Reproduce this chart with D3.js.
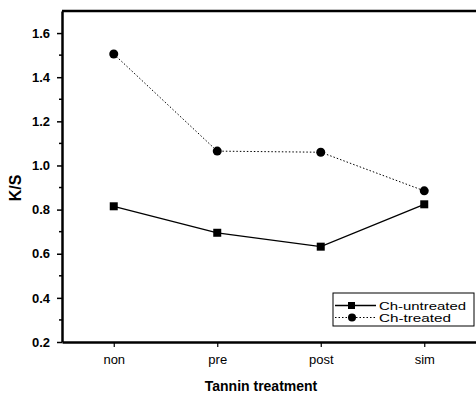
<!DOCTYPE html>
<html>
<head>
<meta charset="utf-8">
<script src="https://cdn.jsdelivr.net/npm/d3@7"></script>
<style>
  body { margin: 0; background: #fff; }
  svg { display: block; font-family: "Liberation Sans", Arial, sans-serif; }
</style>
</head>
<body>
<div id="chart"></div>
<script>
const categories = ['non', 'pre', 'post', 'sim'];
const untreated = [0.815, 0.695, 0.632, 0.824];
const treated = [1.505, 1.065, 1.060, 0.885];
const yTicks = [0.2, 0.4, 0.6, 0.8, 1.0, 1.2, 1.4, 1.6];
const seriesNames = ['Ch-untreated', 'Ch-treated'];

const width = 476, height = 396;
const margin = { top: 11, right: 0, bottom: 54, left: 62 };
const innerW = width - margin.left - margin.right;
const innerH = height - margin.top - margin.bottom;

const svg = d3.select('#chart').append('svg')
  .attr('width', width)
  .attr('height', height);

const g = svg.append('g')
  .attr('transform', `translate(${margin.left},${margin.top})`);

const x = d3.scaleLinear().domain([0.5, 4.5]).range([0, innerW]);
const y = d3.scaleLinear().domain([0.2, 1.7]).range([innerH, 0]);

// minor ticks on y
const minor = d3.range(0.3, 1.7, 0.2);
g.selectAll('.minor')
  .data(minor)
  .enter()
  .append('line')
  .attr('x1', -3).attr('x2', 0)
  .attr('y1', d => y(d)).attr('y2', d => y(d))
  .attr('stroke', '#000').attr('stroke-width', 1.5);

// y axis
const yAxis = g.append('g')
  .call(d3.axisLeft(y).tickValues(yTicks).tickFormat(d3.format('.1f')).tickSize(5).tickSizeOuter(0));
yAxis.select('.domain').attr('stroke-width', 2.5);
yAxis.selectAll('.tick line').attr('stroke-width', 1.5);
yAxis.selectAll('text')
  .attr('font-size', 13).attr('font-weight', 'bold')
  .attr('x', -12).attr('fill', '#000');

// x axis
const xAxis = g.append('g')
  .attr('transform', `translate(0,${innerH})`)
  .call(d3.axisBottom(x).tickValues([1, 2, 3, 4]).tickFormat((d, i) => categories[i]).tickSize(5).tickSizeOuter(0));
xAxis.select('.domain').attr('stroke-width', 2.5);
xAxis.selectAll('.tick line').attr('stroke-width', 1.2);
xAxis.selectAll('text')
  .attr('font-size', 13).attr('fill', '#000').attr('dy', '1.1em');

// top frame line
g.append('line')
  .attr('x1', 0).attr('x2', innerW)
  .attr('y1', 0).attr('y2', 0)
  .attr('stroke', '#000').attr('stroke-width', 2.5);

const line = d3.line()
  .x((d, i) => x(i + 1))
  .y(d => y(d));

// treated (dotted + circles)
g.append('path')
  .datum(treated)
  .attr('d', line)
  .attr('fill', 'none')
  .attr('stroke', '#000')
  .attr('stroke-width', 1)
  .attr('stroke-dasharray', '1.5,2');

g.selectAll('.circ')
  .data(treated)
  .enter()
  .append('circle')
  .attr('cx', (d, i) => x(i + 1))
  .attr('cy', d => y(d))
  .attr('r', 4.5)
  .attr('fill', '#000');

// untreated (solid + squares)
g.append('path')
  .datum(untreated)
  .attr('d', line)
  .attr('fill', 'none')
  .attr('stroke', '#000')
  .attr('stroke-width', 1.3);

g.selectAll('.sq')
  .data(untreated)
  .enter()
  .append('rect')
  .attr('x', (d, i) => x(i + 1) - 4)
  .attr('y', d => y(d) - 4)
  .attr('width', 8).attr('height', 8)
  .attr('fill', '#000');

// axis titles
svg.append('text')
  .attr('transform', 'translate(21,188) rotate(-90)')
  .attr('text-anchor', 'middle')
  .attr('font-size', 16).attr('font-weight', 'bold')
  .text('K/S');

svg.append('text')
  .attr('x', 261).attr('y', 391)
  .attr('text-anchor', 'middle')
  .attr('font-size', 14).attr('font-weight', 'bold')
  .text('Tannin treatment');

// legend
const leg = svg.append('g').attr('transform', 'translate(333,293)');
leg.append('rect')
  .attr('width', 141).attr('height', 33)
  .attr('fill', '#fff').attr('stroke', '#000').attr('stroke-width', 1);

const legWidths = [87, 72];
seriesNames.forEach((name, i) => {
  const ly = 12.5 + i * 12;
  leg.append('line')
    .attr('x1', 2).attr('x2', 43)
    .attr('y1', ly).attr('y2', ly)
    .attr('stroke', '#000')
    .attr('stroke-width', i === 0 ? 1.3 : 1)
    .attr('stroke-dasharray', i === 0 ? null : '1.5,2');
  if (i === 0) {
    leg.append('rect').attr('x', 15).attr('y', ly - 3.5).attr('width', 7).attr('height', 7).attr('fill', '#000');
  } else {
    leg.append('circle').attr('cx', 19).attr('cy', ly).attr('r', 4).attr('fill', '#000');
  }
  leg.append('text')
    .attr('x', 46).attr('y', ly + 4)
    .attr('font-size', 11.5)
    .attr('textLength', legWidths[i])
    .attr('lengthAdjust', 'spacingAndGlyphs')
    .text(name);
});
</script>
</body>
</html>
